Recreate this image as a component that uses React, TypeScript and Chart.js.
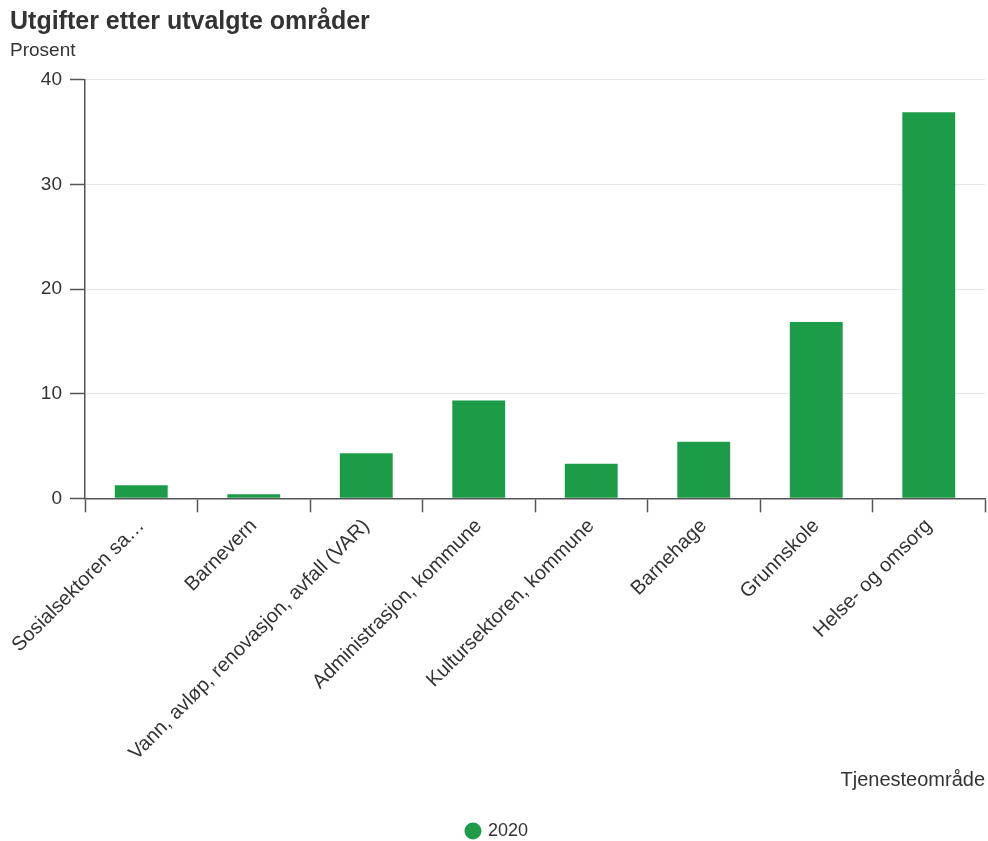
import React, { useEffect, useRef } from "react";
import { Chart, registerables } from "chart.js";

Chart.register(...registerables);

const categories = [
  "Sosialsektoren sa…",
  "Barnevern",
  "Vann, avløp, renovasjon, avfall (VAR)",
  "Administrasjon, kommune",
  "Kultursektoren, kommune",
  "Barnehage",
  "Grunnskole",
  "Helse- og omsorg",
];
const values2020 = [1.25, 0.38, 4.3, 9.35, 3.3, 5.4, 16.85, 36.9];
const seriesName = "2020";
const titleText = "Utgifter etter utvalgte områder";
const subtitleText = "Prosent";
const xTitle = "Tjenesteområde";

const FONT = "'Liberation Sans', Arial, sans-serif";
const TEXT = "#333333";
const AXIS = "#555555";
const GREEN = "#1c9b48";

export default function App() {
  const ref = useRef<HTMLCanvasElement | null>(null);

  useEffect(() => {
    document.body.style.margin = "0";
    const canvas = ref.current;
    if (!canvas) return;
    const chart = new Chart(canvas, {
      type: "bar",
      data: {
        labels: categories,
        datasets: [
          {
            label: seriesName,
            data: values2020,
            backgroundColor: GREEN,
            borderWidth: 0,
            categoryPercentage: 1,
            barPercentage: 0.47,
          },
        ],
      },
      options: {
        responsive: false,
        animation: false,
        layout: { padding: { left: 10, right: 3, top: 0, bottom: -9 } },
        plugins: {
          title: {
            display: true,
            text: titleText,
            align: "start",
            color: TEXT,
            font: { family: FONT, size: 25, weight: "bold" },
            padding: { top: 7, bottom: 2 },
          },
          subtitle: {
            display: true,
            text: subtitleText,
            align: "start",
            color: TEXT,
            font: { family: FONT, size: 19 },
            padding: { top: 0, bottom: 18 },
          },
          legend: {
            display: true,
            position: "bottom",
            labels: {
              usePointStyle: true,
              pointStyle: "circle",
              color: TEXT,
              font: { family: FONT, size: 18 },
              boxWidth: 12,
              boxHeight: 12,
              padding: 0,
            },
          },
          tooltip: { enabled: false },
        },
        scales: {
          x: {
            offset: true,
            grid: {
              display: true,
              drawOnChartArea: false,
              drawTicks: true,
              tickLength: 14,
              tickColor: AXIS,
              tickWidth: 1.5,
              offset: true,
            },
            border: { display: true, color: AXIS, width: 1.5 },
            ticks: {
              autoSkip: false,
              maxRotation: 45,
              minRotation: 45,
              color: TEXT,
              font: { family: FONT, size: 20 },
              padding: 2,
            },
            title: {
              display: true,
              text: xTitle,
              align: "end",
              color: TEXT,
              font: { family: FONT, size: 20 },
              padding: { top: 1, bottom: 30 },
            },
            afterFit: (scale: any) => {
              scale.paddingLeft = 0;
              scale.paddingRight = 0;
            },
          },
          y: {
            min: 0,
            max: 40,
            ticks: {
              stepSize: 10,
              color: TEXT,
              font: { family: FONT, size: 19 },
              padding: 8,
            },
            grid: {
              color: "#e6e6e6",
              lineWidth: 1,
              tickLength: 15,
              tickColor: AXIS,
              tickWidth: 1.5,
            },
            border: { display: true, color: AXIS, width: 1.5 },
            afterFit: (scale: any) => {
              scale.width = 75;
            },
          },
        },
      },
    });
    return () => chart.destroy();
  }, []);

  return (
    <div style={{ width: 988, height: 841, overflow: "hidden", background: "#fff" }}>
      <canvas ref={ref} width={988} height={841} style={{ display: "block" }} />
    </div>
  );
}
